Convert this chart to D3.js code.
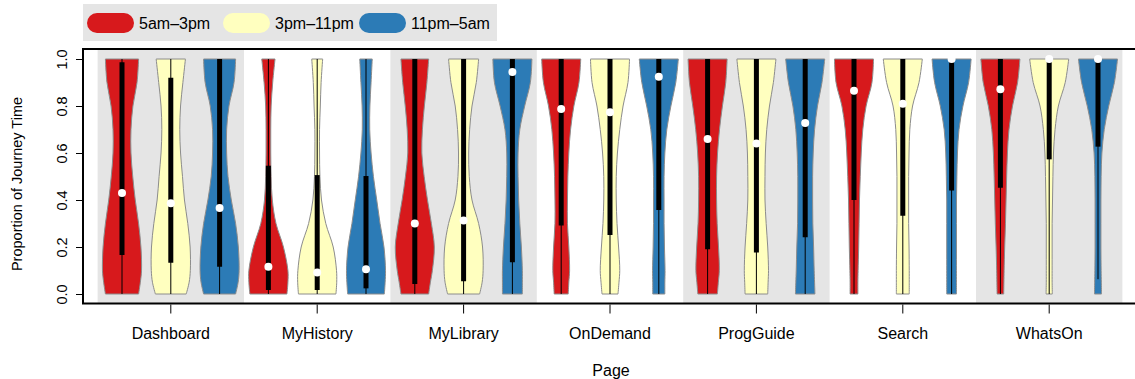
<!DOCTYPE html>
<html>
<head>
<meta charset="utf-8">
<script src="https://cdn.jsdelivr.net/npm/d3@7"></script>
<style>
  body { margin: 0; background: #fff; }
  svg text { font-family: "Liberation Sans", Arial, Helvetica, sans-serif; fill: #000; }
</style>
</head>
<body>
<svg id="chart" width="1135" height="379"></svg>
<script>
// page categories and time-of-day series
const pages = ['Dashboard', 'MyHistory', 'MyLibrary', 'OnDemand', 'ProgGuide', 'Search', 'WhatsOn'];
const periods = ['5am\u20133pm', '3pm\u201311pm', '11pm\u20135am'];
const colors = ['#d7191c', '#ffffbf', '#2c7bb6'];
const yTicks = [0, 0.2, 0.4, 0.6, 0.8, 1.0];

const levels = [0, 0.05, 0.1, 0.2, 0.3, 0.4, 0.5, 0.6, 0.7, 0.8, 0.9, 1.0];

// relative half-widths, one row per violin (page x period)
const widths = [
  [0.85, 0.94, 1.00, 0.97, 0.85, 0.68, 0.55, 0.46, 0.46, 0.56, 0.77, 0.85],
  [0.79, 0.94, 1.00, 0.99, 0.87, 0.70, 0.60, 0.50, 0.46, 0.50, 0.62, 0.75],
  [0.82, 0.95, 1.00, 0.96, 0.82, 0.60, 0.43, 0.36, 0.36, 0.48, 0.74, 0.82],
  [0.95, 1.00, 1.00, 0.77, 0.39, 0.20, 0.14, 0.12, 0.12, 0.14, 0.22, 0.34],
  [0.96, 1.00, 0.99, 0.82, 0.44, 0.22, 0.14, 0.12, 0.12, 0.16, 0.20, 0.28],
  [0.94, 0.98, 1.00, 0.92, 0.72, 0.55, 0.38, 0.26, 0.19, 0.20, 0.26, 0.32],
  [0.71, 0.80, 0.90, 1.00, 0.85, 0.65, 0.48, 0.36, 0.39, 0.49, 0.62, 0.71],
  [0.82, 0.95, 1.00, 0.97, 0.77, 0.43, 0.29, 0.26, 0.31, 0.43, 0.65, 0.77],
  [0.51, 0.51, 0.51, 0.46, 0.38, 0.32, 0.29, 0.29, 0.38, 0.63, 0.92, 1.00],
  [0.36, 0.39, 0.43, 0.39, 0.32, 0.32, 0.34, 0.39, 0.48, 0.65, 0.91, 1.00],
  [0.41, 0.46, 0.50, 0.44, 0.36, 0.32, 0.32, 0.38, 0.50, 0.67, 0.92, 1.00],
  [0.31, 0.31, 0.32, 0.29, 0.27, 0.27, 0.27, 0.31, 0.41, 0.62, 0.87, 1.00],
  [0.50, 0.55, 0.60, 0.56, 0.49, 0.46, 0.46, 0.51, 0.61, 0.76, 0.93, 1.00],
  [0.58, 0.60, 0.62, 0.58, 0.50, 0.44, 0.44, 0.46, 0.53, 0.67, 0.87, 1.00],
  [0.50, 0.48, 0.46, 0.43, 0.39, 0.38, 0.38, 0.41, 0.48, 0.63, 0.86, 1.00],
  [0.20, 0.20, 0.21, 0.24, 0.26, 0.28, 0.32, 0.37, 0.45, 0.62, 0.92, 1.00],
  [0.33, 0.33, 0.33, 0.32, 0.30, 0.30, 0.30, 0.32, 0.36, 0.50, 0.83, 1.00],
  [0.25, 0.25, 0.25, 0.25, 0.25, 0.25, 0.27, 0.30, 0.38, 0.58, 0.87, 1.00],
  [0.17, 0.18, 0.19, 0.22, 0.26, 0.29, 0.32, 0.36, 0.44, 0.62, 0.88, 1.00],
  [0.16, 0.15, 0.15, 0.15, 0.15, 0.17, 0.19, 0.22, 0.30, 0.47, 0.82, 1.00],
  [0.18, 0.17, 0.16, 0.15, 0.15, 0.15, 0.16, 0.20, 0.32, 0.55, 0.84, 1.00]
];

// box stats per violin
const medians = [0.43, 0.386, 0.366, 0.116, 0.092, 0.105, 0.30, 0.313, 0.945, 0.787, 0.773, 0.925,
                 0.66, 0.64, 0.728, 0.865, 0.81, 1.0, 0.871, 1.0, 1.0];
const q1 = [0.166, 0.133, 0.116, 0.017, 0.017, 0.024, 0.043, 0.054, 0.135, 0.292, 0.251, 0.357,
            0.19, 0.177, 0.241, 0.40, 0.333, 0.44, 0.452, 0.573, 0.627];
const q3 = [0.986, 0.92, 1.0, 0.546, 0.506, 0.502, 1, 1, 1, 1, 1, 1, 1, 1, 1, 1, 1, 1, 1, 1, 1];
const whiskLo = [0, 0, 0, 0, 0, 0, 0, 0, 0, 0, 0, 0, 0, 0, 0, 0, 0, 0, 0, 0, 0.063];
const whiskHi = [1, 1, 1, 1, 1, 1, 1, 1, 1, 1, 1, 1, 1, 1, 1, 1, 1, 1, 1, 1, 1];

const svg = d3.select('#chart');
const plotLeft = 83, plotTop = 49, plotBottom = 303.5;

const x = d3.scaleLinear().domain([1, 21]).range([122, 1098]);
const y = d3.scaleLinear().domain([0, 1]).range([294, 59]);
const groupScale = d3.scaleBand().domain(pages).range([x(0.5), x(21.5)]).padding(0);
const halfMax = 0.4 * (x(2) - x(1));

// alternating grey bands
svg.append('g')
  .selectAll('rect')
  .data(pages.filter((p, i) => i % 2 === 0))
  .enter()
  .append('rect')
  .attr('x', d => groupScale(d))
  .attr('y', plotTop)
  .attr('width', groupScale.bandwidth())
  .attr('height', plotBottom - plotTop)
  .attr('fill', '#e5e5e5');

const violins = d3.range(21).map(i => ({
  i: i,
  cx: x(i + 1),
  color: colors[i % 3],
  pts: levels.map((v, k) => ({v: v, w: widths[i][k]}))
}));

const area = d3.area()
  .y(d => y(d.v))
  .curve(d3.curveCatmullRom.alpha(0.5));

const vg = svg.append('g').selectAll('g')
  .data(violins)
  .enter()
  .append('g');

vg.append('path')
  .attr('d', d => area
    .x0(p => d.cx - p.w * halfMax)
    .x1(p => d.cx + p.w * halfMax)(d.pts))
  .attr('fill', d => d.color)
  .attr('stroke', '#8c8c8c')
  .attr('stroke-width', 1);

// whisker
vg.append('line')
  .attr('x1', d => d.cx).attr('x2', d => d.cx)
  .attr('y1', d => y(whiskLo[d.i])).attr('y2', d => y(whiskHi[d.i]))
  .attr('stroke', '#000').attr('stroke-width', 1);

// interquartile bar
vg.append('line')
  .attr('x1', d => d.cx).attr('x2', d => d.cx)
  .attr('y1', d => y(q1[d.i])).attr('y2', d => y(q3[d.i]))
  .attr('stroke', '#000').attr('stroke-width', 5);

vg.append('circle')
  .attr('cx', d => d.cx)
  .attr('cy', d => y(medians[d.i]))
  .attr('r', 4)
  .attr('fill', '#fff');

// y axis
const yAxis = d3.axisLeft(y).tickValues(yTicks).tickFormat(d3.format('.1f')).tickSize(7).tickPadding(0);
const ya = svg.append('g')
  .attr('transform', `translate(${plotLeft},0)`)
  .call(yAxis);
ya.select('.domain').remove();
ya.selectAll('.tick line').attr('stroke', '#000');
ya.selectAll('.tick text')
  .attr('x', 0).attr('dy', null)
  .attr('transform', 'translate(-21,0) rotate(-90)')
  .attr('text-anchor', 'middle')
  .attr('dominant-baseline', 'central')
  .style('font-size', '14.5px');

// x axis
const xAxis = d3.axisBottom(groupScale).tickSize(9).tickPadding(0);
const xa = svg.append('g')
  .attr('transform', `translate(0,${plotBottom + 1})`)
  .call(xAxis);
xa.select('.domain').remove();
xa.selectAll('.tick line').attr('stroke', '#000');
xa.selectAll('.tick text')
  .attr('y', 34).attr('dy', null)
  .style('font-size', '16px');

// plot frame (right side falls outside the picture)
svg.append('path')
  .attr('d', `M1140,${plotTop}H${plotLeft}V${plotBottom}H1140`)
  .attr('fill', 'none')
  .attr('stroke', '#000')
  .attr('stroke-width', 2);

// axis titles
svg.append('text')
  .attr('transform', 'translate(17,184) rotate(-90)')
  .attr('text-anchor', 'middle')
  .attr('dominant-baseline', 'central')
  .style('font-size', '14.5px')
  .text('Proportion of Journey Time');

svg.append('text')
  .attr('x', 611)
  .attr('y', 376)
  .attr('text-anchor', 'middle')
  .style('font-size', '16px')
  .text('Page');

// legend
const legend = svg.append('g');
legend.append('rect')
  .attr('x', 83).attr('y', 4)
  .attr('width', 414).attr('height', 37)
  .attr('fill', '#e5e5e5');

const legendX = [87, 223, 359];
const items = legend.selectAll('g.item')
  .data(periods)
  .enter()
  .append('g')
  .attr('class', 'item')
  .attr('transform', (d, i) => `translate(${legendX[i]},13)`);

items.append('rect')
  .attr('width', 47).attr('height', 20)
  .attr('rx', 10).attr('ry', 10)
  .attr('fill', (d, i) => colors[i]);

items.append('text')
  .attr('x', 52).attr('y', 10)
  .attr('dominant-baseline', 'central')
  .style('font-size', '16px')
  .text(d => d);
</script>
</body>
</html>
